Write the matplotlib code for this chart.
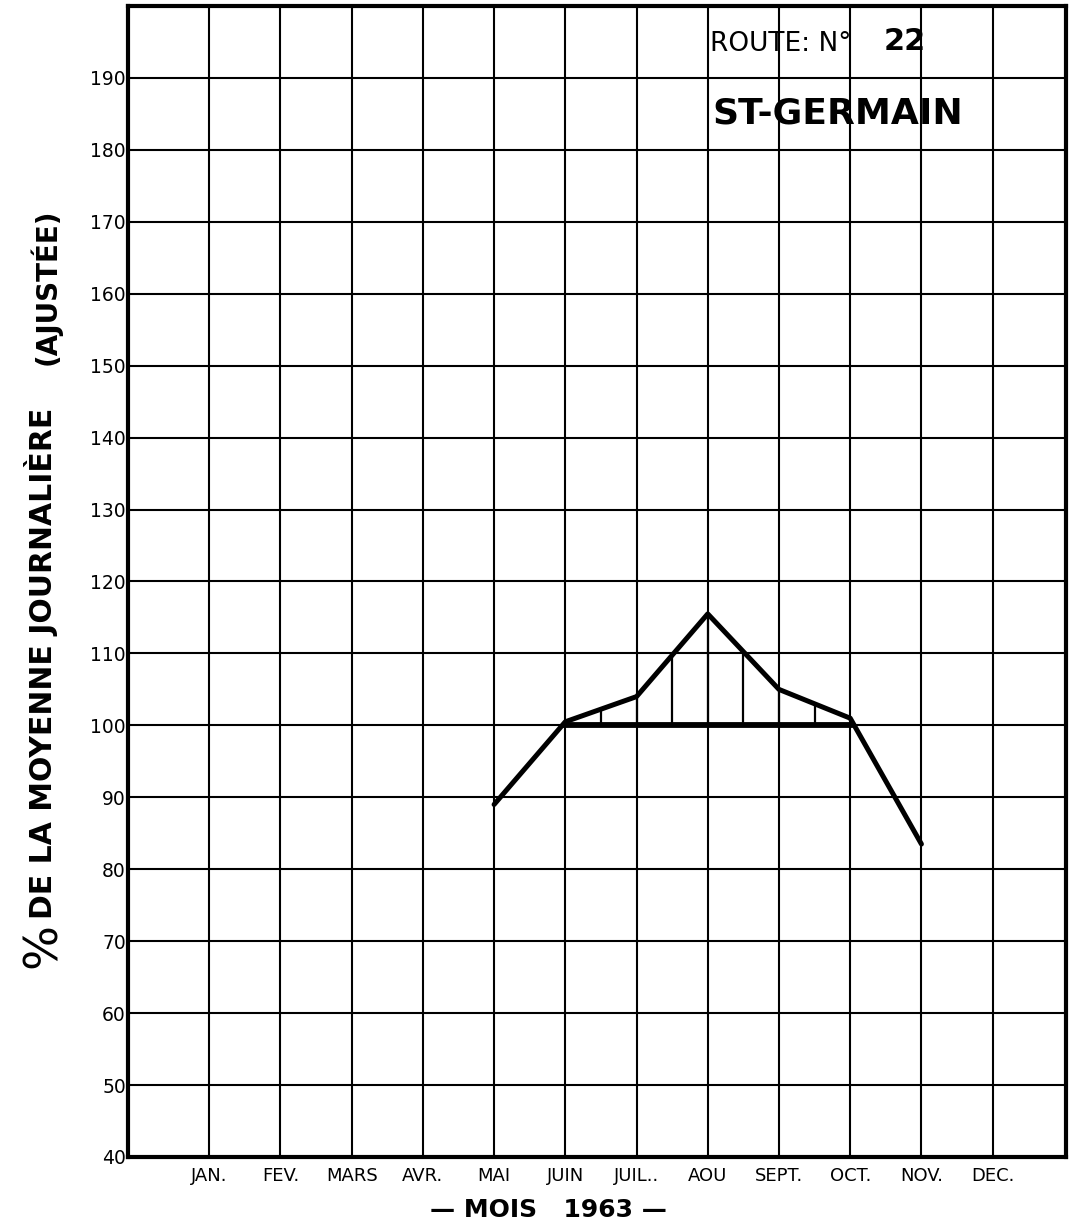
import numpy as np

import matplotlib
matplotlib.use('agg')

from matplotlib import pyplot as plt

W, H = 1088, 1225

# axis labels
month_labels = ["JAN.", "FEV.", "MARS", "AVR.", "MAI", "JUIN",
                "JUIL..", "AOU", "SEPT.", "OCT.", "NOV.", "DEC."]
y_ticks = list(range(40, 200, 10))

# % of the adjusted daily mean, May to November 1963 (JAN = 1)
month_x = [5, 6, 7, 8, 9, 10, 11]
pct_values = [89, 100.5, 104, 115.5, 105, 101, 83.5]

# reference level and the hatched part above it
ref_level = 100
ref_start, ref_end = 6, 10
hatch_x = [6.5, 7, 7.5, 8, 8.5, 9, 9.5]

plt.rcParams['font.family'] = 'DejaVu Sans'

fig = plt.figure(figsize=(W / 100, H / 100), dpi=100)
ax = fig.add_axes([128 / W, 1 - 1157 / H, (1066 - 128) / W, (1157 - 6) / H])

ax.set_xlim(-0.14, 13.03)
ax.set_ylim(40, 200)

ax.set_xticks(range(1, 13))
ax.set_xticklabels(month_labels, fontsize=13)
ax.set_yticks(y_ticks)
ax.set_yticklabels([str(v) for v in y_ticks], fontsize=13.5)
ax.tick_params(axis='both', length=0)
ax.tick_params(axis='y', pad=1.5)
ax.tick_params(axis='x', pad=7)

ax.grid(True, color='black', linewidth=1.5)
ax.set_axisbelow(True)
for side in ax.spines.values():
    side.set_linewidth(3)

# hatching between the curve and the 100 line
hatch_top = np.interp(hatch_x, month_x, pct_values)
ax.vlines(hatch_x, ref_level, hatch_top, color='black', linewidth=1.6)
ax.plot([ref_start, ref_end], [ref_level, ref_level], color='black', linewidth=4.2)

ax.plot(month_x, pct_values, color='black', linewidth=3.6, solid_capstyle='round')

# titles written on the sheet
fig.text(710 / W, 1 - 44 / H, "ROUTE: N°", fontsize=19, va='center', ha='left')
fig.text(884 / W, 1 - 42 / H, "22", fontsize=22, fontweight='bold', va='center', ha='left')
fig.text(712 / W, 1 - 113 / H, "ST-GERMAIN", fontsize=26, fontweight='bold', va='center', ha='left')

# vertical title
fig.text(43 / W, 1 - 945 / H, "%", fontsize=34, rotation=90, va='center', ha='center')
fig.text(41 / W, 1 - 663 / H, "DE LA MOYENNE JOURNALIÈRE", fontsize=21.5, fontweight='bold',
         rotation=90, va='center', ha='center')
fig.text(45 / W, 1 - 287 / H, "(AJUSTÉE)", fontsize=20, fontweight='bold',
         rotation=90, va='center', ha='center')

fig.text(548 / W, 1 - 1210 / H, "— MOIS   1963 —", fontsize=18, fontweight='bold',
         va='center', ha='center')

plt.savefig("out.png", dpi=100)
